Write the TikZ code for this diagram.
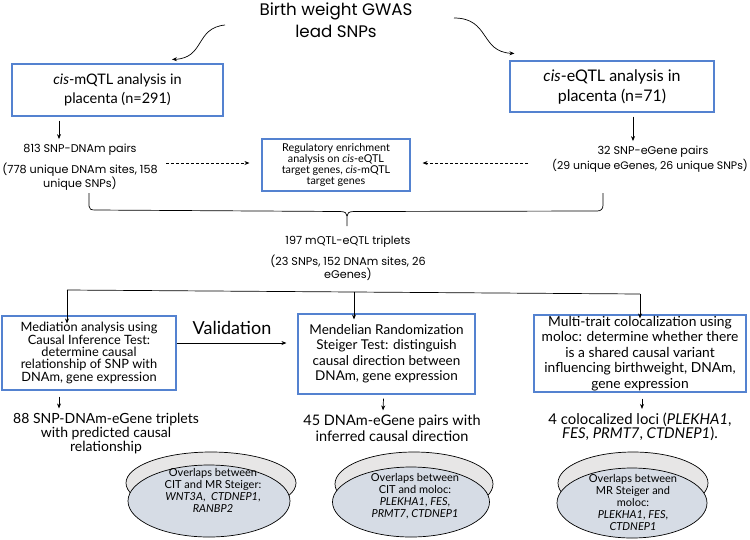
\documentclass[tikz,border=0pt]{standalone}
\usepackage{fontspec}
\setmainfont{Lato}
\newfontfamily\gothic{Poppins}
\usetikzlibrary{arrows.meta,shapes.geometric}
\definecolor{boxblue}{RGB}{84,130,208}
\definecolor{backgray}{RGB}{231,230,230}
\definecolor{frontblue}{RGB}{214,220,229}
\newcommand\setfs[2]{\fontsize{#1}{#2}\selectfont}
\begin{document}
\begin{tikzpicture}[x=1pt,y=-1pt,
  box/.style={draw=boxblue, line width=1.1pt, inner sep=0pt, align=center},
  lbl/.style={inner sep=0pt, align=center},
  arr/.style={-{Stealth[length=5pt,width=4pt]}, line width=0.7pt},
  ln/.style={line width=0.7pt},
  dasharr/.style={arr, dash pattern=on 3pt off 2pt},
  backell/.style={ellipse, draw, line width=0.7pt, fill=backgray, inner sep=0pt},
  frontell/.style={ellipse, draw, line width=0.7pt, fill=frontblue, inner sep=0pt},
  elltext/.style={lbl, font=\setfs{11}{12}},
  small/.style={lbl, font=\gothic\setfs{11.2}{11.5}}]
\useasboundingbox (0,0) rectangle (750,539);

% title
\node[lbl, font=\gothic\setfs{16.7}{22}] (title) at (336,20) {Birth weight GWAS\\lead SNPs};

% top boxes
\node[box, minimum width=211pt, minimum height=52pt, font=\setfs{14.5}{19}] (mq) at (117.5,90) {\textit{cis}-mQTL analysis in\\placenta (n=291)};
\node[box, minimum width=204pt, minimum height=51pt, font=\setfs{16}{20}] (eq) at (612,86.5) {\textit{cis}-eQTL analysis in\\placenta (n=71)};

% curved arrows from title
\coordinate (tl) at (225,25);
\coordinate (tr) at (454,18);
\draw[arr] (tl) .. controls (195,28) and (205,58) .. ([yshift=4pt]mq.north -| 172,0);
\draw[arr] (tr) .. controls (490,18) and (480,52) .. ([xshift=5pt,yshift=7pt]eq.north west);

% pairs text
\node[small] (p813) at (80,150) {813 SNP-DNAm pairs};
\node[small] (p778) at (80,177) {(778 unique DNAm sites, 158\\unique SNPs)};
\node[small] (p32) at (653,152) {32 SNP-eGene pairs};
\node[small, font=\gothic\setfs{10.9}{11.5}] (p29) at (650,166) {(29 unique eGenes, 26 unique SNPs)};

\draw[arr] ([xshift=-58.5pt,yshift=-4pt]mq.south) -- ([xshift=-21pt,yshift=5pt]p813.north);
\draw[arr] ([xshift=21pt,yshift=-4pt]eq.south) -- ([xshift=-20pt,yshift=5pt]p32.north);

% regulatory box
\node[box, minimum width=148pt, minimum height=52pt, font=\setfs{10.8}{10.7}] (reg) at (336,165) {Regulatory enrichment\\analysis on \textit{cis}-eQTL\\target genes, \textit{cis}-mQTL\\target genes};
\draw[dasharr] (166,163) -- ([xshift=-12pt]reg.west |- 0,163);
\draw[dasharr] (528,163) -- ([xshift=12pt]reg.east |- 0,163);

% brace
\coordinate (bl) at (89,193);
\coordinate (br) at (603,193);
\node[small] (t197) at (348,242) {197 mQTL-eQTL triplets};
\node[small] (t23) at (348,268) {(23 SNPs, 152 DNAm sites, 26\\eGenes)};
\draw[ln] (bl) -- (89,206) .. controls (89,209) and (91,210) .. (95,210)
  -- (340,211.5) .. controls (345,211.5) and (347,213) .. (347,216) -- (347,226);
\draw[ln] (347,216) .. controls (347,213) and (349,211.5) .. (354,211.5)
  -- (597,211) .. controls (601,211) and (603,209) .. (603,205) -- (br);

% distribution line
\coordinate (dl) at (67,290);
\coordinate (dr) at (640,294);
\draw[ln] (dl) -- (dr);

% lower boxes
\node[box, minimum width=174pt, minimum height=74pt, font=\setfs{12.8}{12.3}] (med) at (89,353) {Mediation analysis using\\Causal Inference Test:\\determine causal\\relationship of SNP with\\DNAm, gene expression};
\node[box, minimum width=177pt, minimum height=80pt, font=\setfs{13.5}{15.5}] (mr) at (386.5,354) {Mendelian Randomization\\Steiger Test: distinguish\\causal direction between\\DNAm, gene expression};
\node[box, minimum width=212pt, minimum height=77pt, font=\setfs{13.8}{15.5}] (mt) at (640,353.5) {Multi-trait colocalization using\\moloc: determine whether there\\is a shared causal variant\\influencing birthweight, DNAm,\\gene expression};

\draw[arr] (dl) -- ([yshift=-8pt]med.north -| dl);
\draw[arr] (354,291.5) -- ([yshift=-6pt]mr.north -| 354,0);
\draw[arr] (dr) -- ([yshift=-4pt]mt.north -| dr);

% validation
\node[lbl, font=\setfs{18}{20}] (val) at (232,328) {Validation};
\draw[arr] (med.east |- 0,343) -- ([xshift=-11pt]mr.west |- 0,343);

% results
\node[lbl, font=\setfs{14}{14}] (r88) at (106,434) {88 SNP-DNAm-eGene triplets\\with predicted causal\\relationship};
\node[lbl, font=\setfs{14.5}{16}] (r45) at (392,428) {45 DNAm-eGene pairs with\\inferred causal direction};
\node[lbl, font=\setfs{14.9}{14}] (r4) at (640,427) {4 colocalized loci (\textit{PLEKHA1},\\\textit{FES}, \textit{PRMT7}, \textit{CTDNEP1}).};

\draw[arr] ([xshift=-30pt,yshift=-6pt]med.south) -- ([xshift=-47pt,yshift=5pt]r88.north);
\draw[arr] ([xshift=-3pt,yshift=-4pt]mr.south) -- ([xshift=-9pt,yshift=4pt]r45.north);
\draw[arr] ([xshift=2pt,yshift=-6pt]mt.south) -- ([xshift=2pt,yshift=4pt]r4.north);

% ellipses
\node[backell, minimum width=170pt, minimum height=62pt] (b1) at (211,483) {};
\node[frontell, minimum width=162pt, minimum height=72pt] (f1) at (209,501) {};
\node[elltext] (e1) at (213,490) {Overlaps between\\CIT and MR Steiger:\\\textit{WNT3A},\ \ \textit{CTDNEP1},\\\textit{RANBP2}};

\node[backell, minimum width=158pt, minimum height=64pt] (b2) at (414,484) {};
\node[frontell, minimum width=157pt, minimum height=70pt] (f2) at (411,502) {};
\node[elltext] (e2) at (415,496) {Overlaps between\\CIT and moloc:\\\textit{PLEKHA1}, \textit{FES},\\\textit{PRMT7}, \textit{CTDNEP1}};

\node[backell, minimum width=150pt, minimum height=62pt] (b3) at (633,483) {};
\node[frontell, minimum width=150pt, minimum height=70pt] (f3) at (632,503) {};
\node[elltext] (e3) at (633,502) {Overlaps between\\MR Steiger and\\moloc:\\\textit{PLEKHA1}, \textit{FES},\\\textit{CTDNEP1}};
\end{tikzpicture}
\end{document}
